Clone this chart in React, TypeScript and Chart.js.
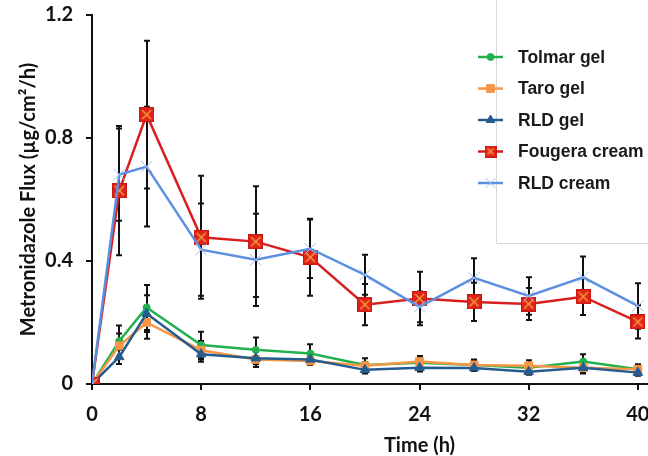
import React, { useEffect, useRef } from 'react';
import { Chart, registerables } from 'chart.js';
import { drawPoint } from 'chart.js/helpers';
Chart.register(...registerables);

const time = [0, 2, 4, 8, 12, 16, 20, 24, 28, 32, 36, 40];
const xTicks = [0, 8, 16, 24, 32, 40, 48];
const yTicks = [0, 0.4, 0.8, 1.2];
const yTickLabels = ['0', '0.4', '0.8', '1.2'];

const seriesNames = ['Tolmar gel', 'Taro gel', 'RLD gel', 'Fougera cream', 'RLD cream'];

const tolmar = [0, 0.14, 0.249, 0.127, 0.111, 0.099, 0.062, 0.069, 0.062, 0.053, 0.073, 0.048];
const taro = [0, 0.124, 0.2, 0.11, 0.08, 0.075, 0.059, 0.073, 0.062, 0.059, 0.053, 0.048];
const rldGel = [0, 0.088, 0.229, 0.097, 0.084, 0.08, 0.046, 0.053, 0.052, 0.04, 0.053, 0.037];
const fougera = [0, 0.629, 0.876, 0.477, 0.463, 0.412, 0.258, 0.278, 0.267, 0.26, 0.284, 0.202];
const rldCream = [0, 0.681, 0.707, 0.437, 0.404, 0.44, 0.355, 0.251, 0.345, 0.286, 0.347, 0.254];

const tolmarErr = [0, 0.05, 0.073, 0.043, 0.04, 0.03, 0.022, 0.015, 0.018, 0.015, 0.024, 0.016];
const taroErr = [0, 0.04, 0.053, 0.03, 0.025, 0.013, 0.012, 0.018, 0.015, 0.018, 0.015, 0.012];
const rldGelErr = [0, 0.023, 0.06, 0.025, 0.02, 0.015, 0.012, 0.012, 0.01, 0.01, 0.019, 0.01];
const fougeraErr = [0, 0.21, 0.24, 0.2, 0.18, 0.125, 0.067, 0.087, 0.062, 0.052, 0.06, 0.054];
const rldCreamErr = [0, 0.15, 0.195, 0.15, 0.15, 0.095, 0.065, 0.05, 0.064, 0.061, 0.068, 0.074];

const AXIS_FONT = 'Lato';
const AXIS_SIZE = 20;

function makeRedMarker(size: number) {
  const c = document.createElement('canvas');
  c.width = size;
  c.height = size;
  const g = c.getContext('2d')!;
  g.fillStyle = '#E0231B';
  g.fillRect(0, 0, size, size);
  g.strokeStyle = '#C81812';
  g.lineWidth = 1;
  g.strokeRect(0.5, 0.5, size - 1, size - 1);
  g.strokeStyle = '#F5A23A';
  g.lineWidth = 1.4;
  g.beginPath();
  g.moveTo(3, 3);
  g.lineTo(size - 3, size - 3);
  g.moveTo(size - 3, 3);
  g.lineTo(3, size - 3);
  g.stroke();
  return c;
}

const errorBarPlugin = {
  id: 'errorBars',
  beforeDatasetsDraw(chart: any) {
    const { ctx } = chart;
    const xs = chart.scales.x;
    const ys = chart.scales.y;
    ctx.save();
    ctx.strokeStyle = '#111';
    ctx.lineWidth = 2;
    chart.data.datasets.forEach((ds: any) => {
      ds.data.forEach((p: any, i: number) => {
        const e = ds.errors[i];
        if (!e) return;
        const px = Math.round(xs.getPixelForValue(p.x));
        const top = ys.getPixelForValue(p.y + e);
        const bot = ys.getPixelForValue(p.y - e);
        ctx.beginPath();
        ctx.moveTo(px, top);
        ctx.lineTo(px, bot);
        ctx.moveTo(px - 3, top);
        ctx.lineTo(px + 3, top);
        ctx.moveTo(px - 3, bot);
        ctx.lineTo(px + 3, bot);
        ctx.stroke();
      });
    });
    ctx.restore();
  },
};

const legendPlugin = {
  id: 'customLegend',
  afterDraw(chart: any) {
    const { ctx } = chart;
    ctx.save();
    ctx.strokeStyle = '#D9D9D9';
    ctx.lineWidth = 1;
    ctx.beginPath();
    ctx.moveTo(496.5, 0);
    ctx.lineTo(496.5, 243.5);
    ctx.lineTo(chart.width, 243.5);
    ctx.stroke();
    const rowY0 = 57;
    const rowGap = 31.5;
    seriesNames.forEach((name, i) => {
      const ds = chart.data.datasets.find((d: any) => d.label === name);
      const y = rowY0 + i * rowGap;
      ctx.strokeStyle = ds.borderColor;
      ctx.lineWidth = 2.5;
      ctx.beginPath();
      ctx.moveTo(478, y);
      ctx.lineTo(503, y);
      ctx.stroke();
      ctx.fillStyle = ds.pointBackgroundColor;
      ctx.strokeStyle = ds.pointBorderColor;
      ctx.lineWidth = ds.pointBorderWidth;
      drawPoint(
        ctx,
        {
          pointStyle: ds.legendPointStyle || ds.pointStyle,
          radius: ds.legendRadius,
          rotation: 0,
          borderWidth: ds.pointBorderWidth,
        },
        490.5,
        y
      );
      ctx.fillStyle = '#1a1a1a';
      ctx.font = 'bold 17.5px "Liberation Sans", Arial, sans-serif';
      ctx.textBaseline = 'middle';
      ctx.textAlign = 'left';
      ctx.fillText(name, 518, y + 1);
    });
    ctx.restore();
  },
};

export default function App() {
  const ref = useRef<HTMLCanvasElement>(null);
  useEffect(() => {
    const canvas = ref.current!;
    const redMarker = makeRedMarker(15);
    const redMarkerSmall = makeRedMarker(12);
    const mk = (vals: number[]) => vals.map((v, i) => ({ x: time[i], y: v }));
    const axisFont = { family: AXIS_FONT, weight: 'bold', size: AXIS_SIZE };
    const chart = new Chart(canvas, {
      type: 'line',
      data: {
        datasets: [
          {
            label: seriesNames[0],
            data: mk(tolmar),
            errors: tolmarErr,
            borderColor: '#22B14C',
            backgroundColor: '#22B14C',
            pointBackgroundColor: '#22B14C',
            pointBorderColor: '#22B14C',
            pointBorderWidth: 1,
            pointStyle: 'circle',
            pointRadius: 3.5,
            legendRadius: 3.5,
            borderWidth: 2.5,
            order: 4,
          },
          {
            label: seriesNames[1],
            data: mk(taro),
            errors: taroErr,
            borderColor: '#F79646',
            backgroundColor: '#F79646',
            pointBackgroundColor: '#F79646',
            pointBorderColor: '#F79646',
            pointBorderWidth: 1,
            pointStyle: 'rect',
            pointRadius: 5.5,
            legendRadius: 5.5,
            borderWidth: 2.5,
            order: 3,
          },
          {
            label: seriesNames[2],
            data: mk(rldGel),
            errors: rldGelErr,
            borderColor: '#255C90',
            backgroundColor: '#255C90',
            pointBackgroundColor: '#255C90',
            pointBorderColor: '#255C90',
            pointBorderWidth: 1,
            pointStyle: 'triangle',
            pointRadius: 5.5,
            legendRadius: 5,
            borderWidth: 2.5,
            order: 2,
          },
          {
            label: seriesNames[3],
            data: mk(fougera),
            errors: fougeraErr,
            borderColor: '#D81E1E',
            backgroundColor: '#D81E1E',
            pointBackgroundColor: '#E0231B',
            pointBorderColor: '#E0231B',
            pointBorderWidth: 1,
            pointStyle: redMarker,
            legendPointStyle: redMarkerSmall,
            pointRadius: 7,
            legendRadius: 6,
            borderWidth: 2.5,
            order: 1,
          },
          {
            label: seriesNames[4],
            data: mk(rldCream),
            errors: rldCreamErr,
            borderColor: '#5B8FDF',
            backgroundColor: '#5B8FDF',
            pointBackgroundColor: '#9DBDF0',
            pointBorderColor: '#9DBDF0',
            pointBorderWidth: 1,
            pointStyle: 'crossRot',
            pointRadius: 8,
            legendRadius: 7,
            borderWidth: 2.5,
            order: 0,
          },
        ] as any,
      },
      options: {
        animation: false,
        responsive: false,
        maintainAspectRatio: false,
        layout: { padding: { left: 0, top: 15, right: 33, bottom: 0 } },
        plugins: { legend: { display: false }, tooltip: { enabled: false } },
        elements: { line: { tension: 0 } },
        scales: {
          x: {
            type: 'linear',
            min: 0,
            max: 48,
            afterBuildTicks: (s: any) => {
              s.ticks = xTicks.map((v) => ({ value: v }));
            },
            afterFit: (s: any) => {
              s.height = 72;
              s.paddingLeft = 0;
              s.paddingRight = 0;
            },
            grid: { drawOnChartArea: false, drawTicks: true, tickLength: 6, color: '#111', lineWidth: 2 },
            border: { display: true, color: '#111', width: 2 },
            ticks: {
              color: '#111',
              padding: 13,
              maxRotation: 0,
              font: axisFont,
            },
            title: {
              display: true,
              text: 'Time (h)',
              color: '#111',
              font: axisFont,
              padding: { top: 0, bottom: -2 },
            },
          },
          y: {
            type: 'linear',
            min: 0,
            max: 1.2,
            afterBuildTicks: (s: any) => {
              s.ticks = yTicks.map((v) => ({ value: v }));
            },
            afterFit: (s: any) => {
              s.width = 92;
              s.paddingTop = 0;
              s.paddingBottom = 0;
            },
            grid: { drawOnChartArea: false, drawTicks: true, tickLength: 6, color: '#111', lineWidth: 2 },
            border: { display: true, color: '#111', width: 2 },
            ticks: {
              color: '#111',
              padding: 13,
              font: axisFont,
              callback: (_v: any, i: number) => yTickLabels[i],
            },
            title: {
              display: true,
              text: 'Metronidazole Flux (µg/cm²/h)',
              color: '#111',
              font: axisFont,
              padding: { top: 17, bottom: 0 },
            },
          },
        },
      } as any,
      plugins: [errorBarPlugin, legendPlugin],
    });
    return () => chart.destroy();
  }, []);
  return (
    <div style={{ position: 'fixed', left: 0, top: 0, width: 648, height: 456, overflow: 'hidden', background: '#fff' }}>
      <canvas ref={ref} width={780} height={456} style={{ display: 'block', width: 780, height: 456 }} />
    </div>
  );
}
